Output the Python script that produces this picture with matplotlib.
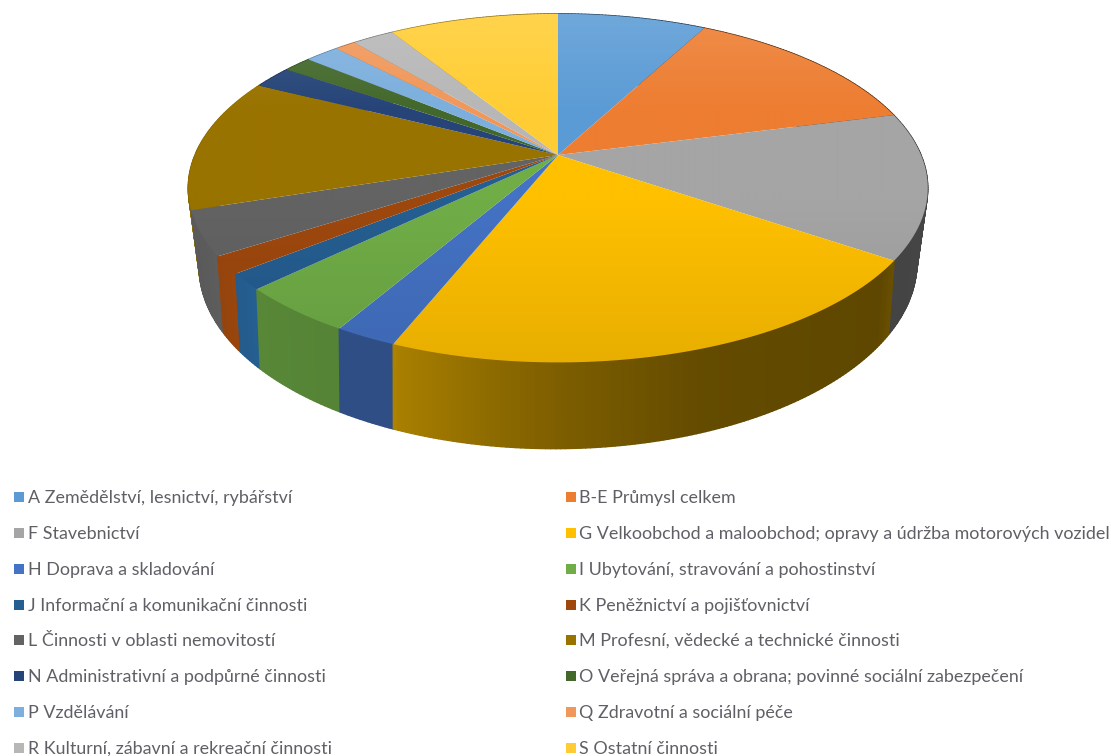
import numpy as np
import matplotlib
matplotlib.use("Agg")
import matplotlib.pyplot as plt
from matplotlib.collections import PolyCollection
from matplotlib.colors import to_rgb
from matplotlib.patches import Polygon, Rectangle

labels = [
    "A Zemědělství, lesnictví, rybářství",
    "B-E Průmysl celkem",
    "F Stavebnictví",
    "G Velkoobchod a maloobchod; opravy a údržba motorových vozidel",
    "H Doprava a skladování",
    "I Ubytování, stravování a pohostinství",
    "J Informační a komunikační činnosti",
    "K Peněžnictví a pojišťovnictví",
    "L Činnosti v oblasti nemovitostí",
    "M Profesní, vědecké a technické činnosti",
    "N Administrativní a podpůrné činnosti",
    "O Veřejná správa a obrana; povinné sociální zabezpečení",
    "P Vzdělávání",
    "Q Zdravotní a sociální péče",
    "R Kulturní, zábavní a rekreační činnosti",
    "S Ostatní činnosti",
]
shares = [7.8, 13.2, 13.5, 21.6, 2.3, 4.4, 1.5, 1.6, 4.1, 12.4, 2.1, 1.5, 1.8, 1.1, 2.2, 8.9]
colors = ["#5B9BD5", "#ED7D31", "#A5A5A5", "#FFC000", "#4472C4", "#70AD47", "#255E91", "#9E480E",
          "#636363", "#997300", "#264478", "#43682B", "#7CAFDD", "#F1975A", "#B7B7B7", "#FFCD33"]

plt.rcParams["font.family"] = ["Lato", "DejaVu Sans"]
W, H = 1111, 756
fig = plt.figure(figsize=(W / 100, H / 100), dpi=100)
ax = fig.add_axes([0, 0, 1, 1])
ax.set_xlim(0, W)
ax.set_ylim(H, 0)
ax.axis("off")


def rim(t, cx, cy, a, b, k, tilt=0.0):
    u, v = np.sin(t), np.cos(t)
    d = 1 + k * v
    return np.column_stack([cx + a * u / d, cy - b * v / d - tilt * u / d])


TOP = dict(cx=558, cy=155, a=363, b=168, k=0.19)
BOT = dict(cx=558, cy=224, a=350, b=175, k=0.221, tilt=1.8)

edges = np.radians(np.concatenate([[0], np.cumsum(shares)]) * 3.6)

# side wall shading across the picture
light_x = [190, 256, 257, 339, 341, 395, 400, 480, 560, 700, 880, 893, 930]
light_f = [0.90, 1.00, 0.78, 0.76, 0.68, 0.68, 0.66, 0.57, 0.49, 0.39, 0.37, 0.41, 0.42]
quads, qcols, order = [], [], []
for i, col in enumerate(colors):
    rgb = np.array(to_rgb(col))
    n = max(3, int((edges[i + 1] - edges[i]) * 90))
    ts = np.linspace(edges[i], edges[i + 1], n + 1)
    p, q = rim(ts, **TOP), rim(ts, **BOT)
    for j in range(n):
        xm = (p[j, 0] + p[j + 1, 0]) / 2
        f = np.interp(xm, light_x, light_f)
        quads.append([p[j], p[j + 1], q[j + 1], q[j]])
        qcols.append(tuple(rgb * f))
        order.append(np.cos((ts[j] + ts[j + 1]) / 2))
idx = np.argsort(order)[::-1]
ax.add_collection(PolyCollection([quads[i] for i in idx], facecolors=[qcols[i] for i in idx],
                                 edgecolors=[qcols[i] for i in idx], linewidths=1.0, zorder=2))

# top face: soft sheen at the back, slightly darker at the front
ys = np.linspace(10, 370, 180)
sheen = np.interp(ys, [10, 110, 400], [0.13, 0.0, 0.0])[:, None, None]
shade = np.interp(ys, [10, 200, 365], [1.0, 1.0, 0.91])[:, None, None]
for i, col in enumerate(colors):
    rgb = np.array(to_rgb(col))
    ts = np.linspace(edges[i], edges[i + 1], 80)
    pts = np.vstack([[TOP["cx"], TOP["cy"]], rim(ts, **TOP)])
    img = rgb[None, None, :] * shade * (1 - sheen) + sheen
    im = ax.imshow(img, extent=[180, 940, 370, 10], aspect="auto", zorder=3, interpolation="bilinear")
    im.set_clip_path(Polygon(pts, closed=True, transform=ax.transData))
ax.set_xlim(0, W)
ax.set_ylim(H, 0)

# legend
rows = [497, 533, 569, 605, 640, 676, 712, 748]
for i, lab in enumerate(labels):
    r, c = i // 2, i % 2
    mx = 14 if c == 0 else 566
    tx = 28 if c == 0 else 579
    ax.add_patch(Rectangle((mx, rows[r] - 5), 10, 10, facecolor=colors[i], edgecolor="none", zorder=5))
    ax.text(tx, rows[r] + 1, lab, ha="left", va="center", fontsize=12.85, color="#5f6066", zorder=5)

fig.savefig("out.png", dpi=100, facecolor="white")
